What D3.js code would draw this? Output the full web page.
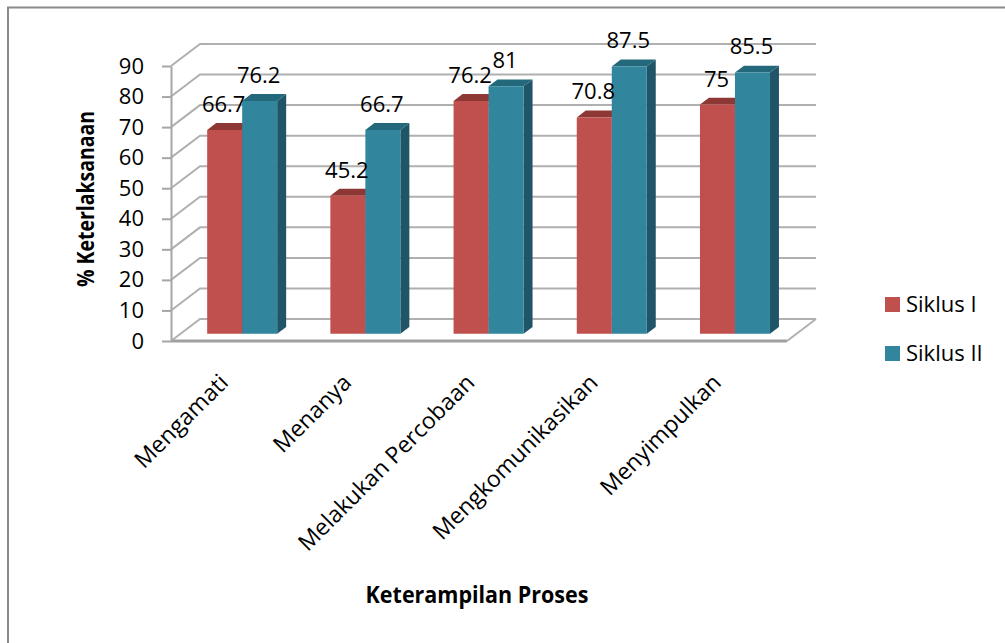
<!DOCTYPE html>
<html>
<head>
<meta charset="utf-8">
<script src="https://cdn.jsdelivr.net/npm/d3@7"></script>
<style>
    html, body { margin: 0; padding: 0; background: #fff; }
    svg { display: block; font-family: 'Open Sans', sans-serif; }
</style>
</head>
<body>
<div id="chart"></div>
<script>
// Datos
const categories = ['Mengamati', 'Menanya', 'Melakukan Percobaan', 'Mengkomunikasikan', 'Menyimpulkan'];
const seriesNames = ['Siklus I', 'Siklus II'];
const siklus1 = [66.7, 45.2, 76.2, 70.8, 75];
const siklus2 = [76.2, 66.7, 81, 87.5, 85.5];
const yTicks = [0, 10, 20, 30, 40, 50, 60, 70, 80, 90];
const yTitle = '% Keterlaksanaan';
const xTitle = 'Keterampilan Proses';

const colors = {
    'Siklus I': { front: '#c0504d', top: '#8e3836', side: '#7a2f2d' },
    'Siklus II': { front: '#31859c', top: '#24697b', side: '#205567' }
};

const width = 1005, height = 643;
// plano frontal del gráfico 3D
const x0 = 171, y0 = 341, plotW = 616, plotH = 275;
const depth = { dx: 29, dy: -22 };
const barZ = [0.33, 0.64];

const svg = d3.select('#chart').append('svg')
    .attr('width', width)
    .attr('height', height);

// Marco exterior
svg.append('rect')
    .attr('x', 8).attr('y', 7.5)
    .attr('width', width).attr('height', height)
    .attr('fill', 'none')
    .attr('stroke', '#8a8a8a')
    .attr('stroke-width', 2);

let x = d3.scaleBand().domain(categories).range([0, plotW]);
let xInner = d3.scaleBand().domain(seriesNames).range([0, x.bandwidth()]).paddingInner(0).paddingOuter(0.76);
let y = d3.scaleLinear().domain([0, 90]).range([0, plotH]);

function proj(xv, v, z) {
    return [x0 + xv + z * depth.dx, y0 - y(v) + z * depth.dy];
}

//Paredes: rejilla del fondo, pared izquierda y suelo
let walls = svg.append('g')
    .attr('fill', 'none')
    .attr('stroke', '#b0b0b0')
    .attr('stroke-width', 2);

yTicks.forEach(function(t) {
    let a = proj(0, t, 0), b = proj(0, t, 1), c = proj(plotW, t, 1);
    walls.append('path').attr('d', d3.line()([a, b, c]));
});

// suelo
let f1 = proj(0, 0, 0), f2 = proj(plotW, 0, 0), f3 = proj(plotW, 0, 1);
walls.append('path').attr('d', d3.line()([f2, f3]));
walls.append('path')
    .attr('d', d3.line()([f1, f2]))
    .attr('stroke', '#a0a0a0')
    .attr('stroke-width', 3);

//Eje Y
let yScreen = d3.scaleLinear().domain([0, 90]).range([y0, y0 - plotH]);
let yAxis = svg.append('g')
    .attr('transform', 'translate(' + x0 + ',0)')
    .call(d3.axisLeft(yScreen).tickValues(yTicks).tickSize(9).tickSizeOuter(0).tickPadding(18));
yAxis.select('.domain').attr('stroke', '#a6a6a6').attr('stroke-width', 2);
yAxis.selectAll('.tick line').attr('stroke', '#a6a6a6').attr('stroke-width', 2);
yAxis.selectAll('.tick text')
    .attr('fill', '#000')
    .style('font-family', "'Open Sans', sans-serif")
    .style('font-size', '22px');

//Barras
let series = [siklus1, siklus2];
let bars = svg.append('g');

categories.forEach(function(cat, i) {
    seriesNames.forEach(function(s, j) {
        let v = series[j][i];
        let xl = x(cat) + xInner(s), xr = xl + xInner.bandwidth();
        let c = colors[s];
        let fl = proj(xl, 0, barZ[0]), fr = proj(xr, 0, barZ[0]);
        let tl = proj(xl, v, barZ[0]), tr = proj(xr, v, barZ[0]);
        let btl = proj(xl, v, barZ[1]), btr = proj(xr, v, barZ[1]), bbr = proj(xr, 0, barZ[1]);

        // cara lateral
        bars.append('path')
            .attr('d', d3.line()([fr, tr, btr, bbr]) + 'Z')
            .attr('fill', c.side);
        // cara superior
        bars.append('path')
            .attr('d', d3.line()([tl, tr, btr, btl]) + 'Z')
            .attr('fill', c.top);
        // cara frontal
        bars.append('path')
            .attr('d', d3.line()([fl, fr, tr, tl]) + 'Z')
            .attr('fill', c.front);
    });
});

//Etiquetas de datos
categories.forEach(function(cat, i) {
    seriesNames.forEach(function(s, j) {
        let v = series[j][i];
        let p = proj(x(cat) + xInner(s) + xInner.bandwidth() / 2, v, barZ[0]);
        svg.append('text')
            .attr('x', p[0] - 1)
            .attr('y', p[1] - 18)
            .attr('text-anchor', 'middle')
            .style('font-size', '22px')
            .text(v);
    });
});

//Etiquetas del eje X
svg.append('g')
    .selectAll('text')
    .data(categories)
    .enter()
    .append('text')
    .attr('text-anchor', 'end')
    .attr('transform', function(d) {
        let cx = x0 + x(d) + x.bandwidth() / 2;
        return 'translate(' + (cx - 3) + ',' + 384 + ') rotate(-45)';
    })
    .style('font-size', '23px')
    .text(function(d) { return d; });

//Títulos de ejes
svg.append('text')
    .attr('transform', 'translate(94,199) rotate(-90) scale(1,1.2)')
    .attr('text-anchor', 'middle')
    .style('font-size', '19.5px')
    .style('font-weight', 'bold')
    .text(yTitle);

svg.append('text')
    .attr('transform', 'translate(477,603) scale(1,1.08)')
    .attr('text-anchor', 'middle')
    .style('font-size', '21.5px')
    .style('font-weight', 'bold')
    .text(xTitle);

//Leyenda
let legend = svg.append('g').attr('transform', 'translate(885,297)');
seriesNames.forEach(function(s, j) {
    let g = legend.append('g').attr('transform', 'translate(0,' + (j * 49) + ')');
    g.append('rect')
        .attr('width', 15).attr('height', 15)
        .attr('fill', colors[s].front);
    g.append('text')
        .attr('x', 21)
        .attr('y', 15)
        .style('font-size', '22px')
        .text(s);
});
</script>
</body>
</html>
